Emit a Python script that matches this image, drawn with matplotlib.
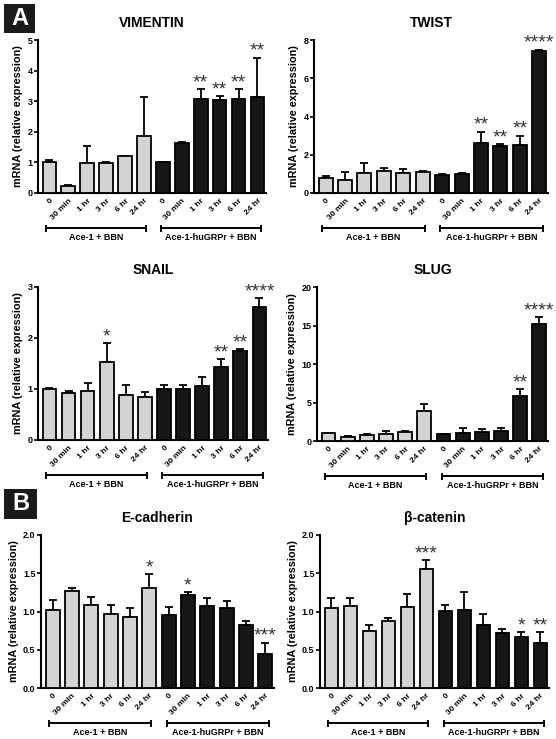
import matplotlib
matplotlib.use("Agg")
import matplotlib.pyplot as plt
from matplotlib.patches import Rectangle
import numpy as np

plt.rcParams['font.family'] = ['Liberation Sans', 'DejaVu Sans']

categories = ["0", "30 min", "1 hr", "3 hr", "6 hr", "24 hr"]
groups = ["Ace-1 + BBN", "Ace-1-huGRPr + BBN"]

# values: first 6 = Ace-1 + BBN (gray), last 6 = Ace-1-huGRPr + BBN (black)
vimentin_mean = [1.00, 0.22, 0.97, 0.97, 1.20, 1.85, 1.00, 1.62, 3.08, 3.05, 3.08, 3.15]
vimentin_top = [1.08, 0.27, 1.54, 1.00, 1.21, 3.15, 1.02, 1.66, 3.40, 3.16, 3.40, 4.42]
vimentin_sig = ["", "", "", "", "", "", "", "", "**", "**", "**", "**"]

twist_mean = [0.80, 0.70, 1.03, 1.15, 1.03, 1.10, 0.93, 0.98, 2.62, 2.48, 2.52, 7.42]
twist_top = [0.88, 1.12, 1.57, 1.33, 1.27, 1.17, 0.98, 1.05, 3.20, 2.55, 3.00, 7.50]
twist_sig = ["", "", "", "", "", "", "", "", "**", "**", "**", "****"]

snail_mean = [1.00, 0.93, 0.97, 1.53, 0.88, 0.85, 1.00, 1.00, 1.06, 1.43, 1.75, 2.60]
snail_top = [1.01, 0.96, 1.12, 1.90, 1.08, 0.95, 1.07, 1.08, 1.23, 1.58, 1.78, 2.78]
snail_sig = ["", "", "", "*", "", "", "", "", "", "**", "**", "****"]

slug_mean = [1.00, 0.52, 0.80, 0.90, 1.17, 3.90, 0.90, 1.08, 1.13, 1.35, 5.80, 15.2]
slug_top = [1.05, 0.60, 0.90, 1.30, 1.35, 4.80, 0.95, 1.65, 1.50, 1.65, 6.70, 16.1]
slug_sig = ["", "", "", "", "", "", "", "", "", "", "**", "****"]

ecad_mean = [1.02, 1.27, 1.09, 0.97, 0.93, 1.31, 0.95, 1.21, 1.07, 1.05, 0.82, 0.45]
ecad_top = [1.15, 1.31, 1.19, 1.09, 1.05, 1.49, 1.06, 1.25, 1.17, 1.14, 0.87, 0.59]
ecad_sig = ["", "", "", "", "", "*", "", "*", "", "", "", "***"]

bcat_mean = [1.05, 1.07, 0.74, 0.88, 1.06, 1.56, 1.01, 1.02, 0.83, 0.72, 0.67, 0.59]
bcat_top = [1.17, 1.17, 0.82, 0.92, 1.23, 1.67, 1.09, 1.26, 0.97, 0.77, 0.73, 0.73]
bcat_sig = ["", "", "", "", "", "***", "", "", "", "", "*", "**"]

W, H = 556, 739
fig = plt.figure(figsize=(W / 100, H / 100), dpi=100)

GRAY = "#d3d3d3"
DARK = "#161616"


def px_axes(left, right, top, bottom):
    return fig.add_axes([left / W, 1 - bottom / H, (right - left) / W, (bottom - top) / H])


def panel(box, title, mean, top, sig, ymax, ystep, fmt):
    ax = px_axes(*box)
    n = len(mean)
    x = np.arange(n)
    colors = [GRAY] * 6 + [DARK] * 6
    ax.bar(x, mean, width=0.72, color=colors, edgecolor="black", linewidth=1.3, zorder=3)
    err = np.array(top) - np.array(mean)
    ax.errorbar(x, mean, yerr=[np.zeros(n), err], fmt="none", ecolor="black",
                elinewidth=1.3, capsize=3, capthick=1.3, zorder=2)
    for xi, t, s in zip(x, top, sig):
        if s:
            ax.annotate(s, (xi, t), xytext=(0, -1.5), textcoords="offset points",
                        ha="center", va="bottom", fontsize=14, color="#333333")
    ax.set_xlim(-0.6, n - 0.55)
    ax.set_ylim(0, ymax)
    ax.set_yticks(np.arange(0, ymax + ystep / 2, ystep))
    ax.set_yticklabels([fmt.format(v) for v in np.arange(0, ymax + ystep / 2, ystep)],
                       fontsize=6.5, fontweight="bold")
    ax.set_xticks(x)
    ax.set_xticklabels(categories * 2, rotation=45, ha="right", rotation_mode="anchor",
                       fontsize=6, fontweight="bold")
    ax.tick_params(axis="x", length=0, pad=3)
    ax.tick_params(axis="y", length=3, width=1.2, pad=1)
    for sp in ["top", "right"]:
        ax.spines[sp].set_visible(False)
    for sp in ["left", "bottom"]:
        ax.spines[sp].set_linewidth(1.5)
    ax.set_ylabel("mRNA (relative expression)", fontsize=7.8, fontweight="bold", labelpad=3)
    ax.text(0.5, 1 + 17 / 153, title, transform=ax.transAxes, ha="center", va="center",
            fontsize=10, fontweight="bold")
    # group brackets
    tr = ax.get_xaxis_transform()
    for (x0, x1), g in zip([(-0.2, 5.1), (5.9, 11.2)], groups):
        ax.plot([x0, x1], [-0.23, -0.23], transform=tr, color="black", lw=1.4, clip_on=False)
        for xx in (x0, x1):
            ax.plot([xx, xx], [-0.213, -0.247], transform=tr, color="black", lw=1.4, clip_on=False)
        ax.text((x0 + x1) / 2, -0.29, g, transform=tr, ha="center", va="center",
                fontsize=6.5, fontweight="bold")
    return ax


panel((38, 266, 40, 193), "VIMENTIN", vimentin_mean, vimentin_top, vimentin_sig, 5, 1, "{:.0f}")
panel((314, 548, 40, 193), "TWIST", twist_mean, twist_top, twist_sig, 8, 2, "{:.0f}")
panel((38, 268, 287, 440), "SNAIL", snail_mean, snail_top, snail_sig, 3, 1, "{:.0f}")
panel((317, 548, 287, 441), "SLUG", slug_mean, slug_top, slug_sig, 20, 5, "{:.0f}")
panel((41, 274, 535, 688), "E-cadherin", ecad_mean, ecad_top, ecad_sig, 2.0, 0.5, "{:.1f}")
panel((320, 549, 535, 688), "β-catenin", bcat_mean, bcat_top, bcat_sig, 2.0, 0.5, "{:.1f}")

# panel letters
for lab, (x0, y0, x1, y1) in [("A", (4, 4, 35, 33)), ("B", (4, 489, 37, 519))]:
    fig.patches.append(Rectangle((x0 / W, 1 - y1 / H), (x1 - x0) / W, (y1 - y0) / H,
                                 transform=fig.transFigure, facecolor="#1a1a1a",
                                 edgecolor="none", zorder=5))
    fig.text((x0 + x1) / 2 / W, 1 - (y0 + y1) / 2 / H, lab, color="white", fontsize=17,
             fontweight="bold", ha="center", va="center", zorder=6)

fig.savefig("out.png", dpi=100)
